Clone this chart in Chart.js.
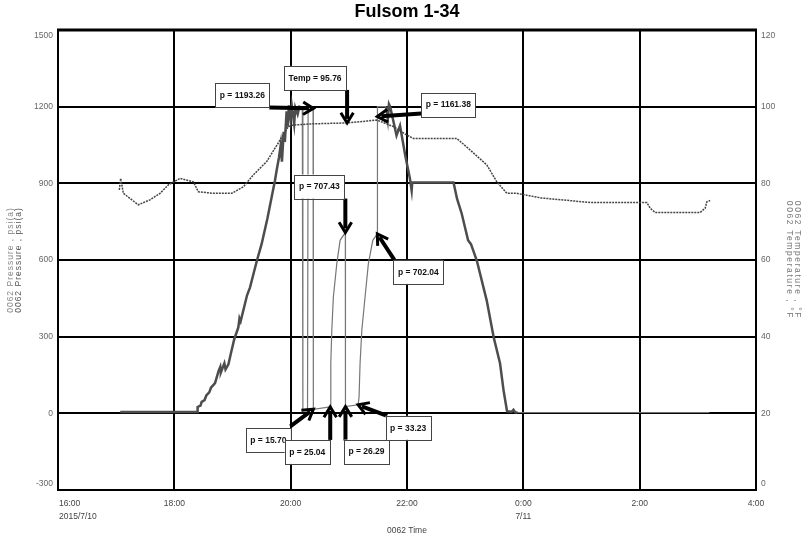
<!DOCTYPE html>
<html>
<head>
<meta charset="utf-8">
<script src="https://cdn.jsdelivr.net/npm/chart.js@4.4.1/dist/chart.umd.min.js"></script>
<style>
html,body{margin:0;padding:0;background:#fff;}
#wrap{width:809px;height:539px;}
</style>
</head>
<body>
<div id="wrap"><canvas id="c" width="809" height="539"></canvas></div>
<script>
// ---------- data (hours since 2015/7/10 00:00) ----------
const chartTitle = 'Fulsom 1-34';
const xTickLabels = ['16:00', '18:00', '20:00', '22:00', '0:00', '2:00', '4:00'];
const xTickSubLabels = ['2015/7/10', '', '', '', '7/11', '', ''];
const xTickValues = [16, 18, 20, 22, 24, 26, 28];
const pressureTicks = [1500, 1200, 900, 600, 300, 0, -300];
const temperatureTicks = [120, 100, 80, 60, 40, 20, 0];

const pressureRiseTime = [17.07, 18.40, 18.40, 18.45, 18.47, 18.52, 18.55, 18.60, 18.63, 18.70, 18.76, 18.79, 18.80, 18.86, 18.88, 18.93, 18.97, 19.03, 19.10, 19.12, 19.14, 19.25, 19.30, 19.42, 19.50, 19.60, 19.73, 19.76, 19.80, 19.83, 19.85, 19.88, 19.90, 19.93, 19.95, 19.97, 20.00, 20.02, 20.06, 20.08, 20.12, 20.15, 20.20];
const pressureRiseValue = [5, 5, 25, 30, 45, 52, 70, 82, 100, 118, 165, 182, 160, 196, 172, 192, 232, 290, 336, 372, 360, 462, 492, 598, 662, 762, 911, 952, 1002, 1052, 985, 1102, 1062, 1182, 1122, 1205, 1150, 1202, 1132, 1196, 1170, 1200, 1195];

const pressureTestTime = [20.20, 20.21, 20.29, 20.30, 20.385, 20.39, 20.68, 20.69, 20.707, 20.734, 20.793, 20.85, 20.94, 20.942, 21.16, 21.176, 21.193, 21.223, 21.279, 21.336, 21.412, 21.49, 21.492, 21.64];
const pressureTestValue = [1195, 12, 14, 1198, 1193.26, 15.70, 25.04, 195, 324, 455, 586, 677, 707.43, 26.29, 33.23, 64, 195, 324, 455, 586, 677, 702.04, 1200, 1200];

const pressureFallTime = [21.64, 21.67, 21.69, 21.71, 21.77, 21.82, 21.88, 21.97, 22.05, 22.08, 22.09, 22.80, 22.86, 22.94, 23.05, 23.10, 23.20, 23.37, 23.49, 23.60, 23.66, 23.72, 23.80, 23.83, 23.86, 23.90];
const pressureFallValue = [1200, 1150, 1210, 1200, 1139, 1087, 1126, 1009, 919, 872, 903, 903, 840, 782, 677, 662, 598, 442, 298, 195, 90, 8, 6, 14, 4, 3];

const pressureTailTime = [23.90, 27.20];
const pressureTailValue = [3, 3];

const temperatureTime = [17.054, 17.078, 17.123, 17.381, 17.582, 17.754, 17.897, 18.098, 18.327, 18.413, 18.671, 18.987, 19.187, 19.359, 19.589, 19.818, 19.960, 20.046, 20.333, 20.970, 21.481, 21.766, 21.997, 22.110, 22.856, 23.085, 23.372, 23.544, 23.716, 23.888, 24.300, 25.149, 26.124, 26.181, 26.267, 27.040, 27.126, 27.155, 27.212];
const temperatureValue = [78.3, 81.3, 77.4, 74.4, 75.7, 77.4, 79.6, 81.3, 80.4, 77.8, 77.4, 77.4, 79.1, 82.2, 85.7, 91.3, 94.8, 95.2, 95.5, 95.76, 96.5, 94.8, 92.6, 91.7, 91.7, 88.7, 84.8, 80.4, 77.4, 77.4, 76.2, 75.0, 75.0, 73.5, 72.4, 72.4, 73.5, 75.2, 75.5];

const annotationTexts = ['p = 1193.26', 'Temp = 95.76', 'p = 1161.38', 'p = 707.43', 'p = 702.04', 'p = 15.70', 'p = 25.04', 'p = 26.29', 'p = 33.23'];
const annotationTimes = [20.39, 20.97, 21.49, 20.94, 21.49, 20.39, 20.68, 20.942, 21.16];
const annotationValues = [1193.26, 95.76, 1161.38, 707.43, 702.04, 15.70, 25.04, 26.29, 33.23];
const annotationAxes = ['y', 'y2', 'y', 'y', 'y', 'y', 'y', 'y', 'y'];

// ---------- layout of annotation boxes (pixel offsets from arrow tip) ----------
const annotationBoxOffset = [[-71, -13], [-32, -45], [71, -12], [-26, -46], [41, 38], [-45, 31], [-23, 45], [21, 45], [50, 23]];
const annotationTailOffset = [[-44, -1], [0, -33], [44, -3], [0, -34], [17, 26], [-23, 17], [0, 33], [0, 34], [29, 11]];

function pts(t, v) { return t.map((x, i) => ({ x: x, y: v[i] })); }

const FONT = '"Liberation Sans", Arial, sans-serif';

const decor = {
  id: 'decor',
  beforeDraw(chart) {
    const ctx = chart.ctx;
    ctx.save();
    ctx.fillStyle = '#fff';
    ctx.fillRect(0, 0, chart.width, chart.height);
    ctx.restore();
  },
  afterDraw(chart) {
    const ctx = chart.ctx;
    const a = chart.chartArea;
    const xs = chart.scales.x, ys = chart.scales.y, y2 = chart.scales.y2;
    ctx.save();
    // frame
    ctx.strokeStyle = '#000';
    ctx.lineWidth = 2;
    ctx.strokeRect(a.left, a.top, a.right - a.left, a.bottom - a.top);
    ctx.lineWidth = 3;
    ctx.beginPath(); ctx.moveTo(a.left - 1, a.top); ctx.lineTo(a.right + 1, a.top); ctx.stroke();

    // y tick labels
    ctx.font = '8.5px ' + FONT;
    ctx.fillStyle = '#666';
    ctx.textBaseline = 'middle';
    ctx.textAlign = 'right';
    pressureTicks.forEach((v, i) => {
      let y = ys.getPixelForValue(v);
      if (i === 0) y += 6; if (i === pressureTicks.length - 1) y -= 6;
      ctx.fillText(String(v), a.left - 5, y);
    });
    ctx.textAlign = 'left';
    temperatureTicks.forEach((v, i) => {
      let y = y2.getPixelForValue(v);
      if (i === 0) y += 6; if (i === temperatureTicks.length - 1) y -= 6;
      ctx.fillText(String(v), a.right + 5, y);
    });
    // x tick labels
    ctx.fillStyle = '#444';
    xTickValues.forEach((v, i) => {
      const x = xs.getPixelForValue(v);
      ctx.textAlign = i === 0 ? 'left' : 'center';
      const xx = i === 0 ? x + 1 : x;
      ctx.fillText(xTickLabels[i], xx, 504);
      if (xTickSubLabels[i]) ctx.fillText(xTickSubLabels[i], xx, 517);
    });
    ctx.textAlign = 'center';
    ctx.fillText('0062 Time', (a.left + a.right) / 2, 531);

    // axis titles
    const midY = (a.top + a.bottom) / 2;
    ctx.font = '8.5px ' + FONT;
    ctx.letterSpacing = '1px';
    ctx.save();
    ctx.translate(11, midY); ctx.rotate(-Math.PI / 2);
    ctx.fillStyle = '#888'; ctx.fillText('0062 Pressure , psi(a)', 0, 0);
    ctx.restore();
    ctx.save();
    ctx.translate(19, midY); ctx.rotate(-Math.PI / 2);
    ctx.fillStyle = '#555'; ctx.fillText('0062 Pressure , psi(a)', 0, 0);
    ctx.restore();
    ctx.letterSpacing = '1.6px';
    ctx.save();
    ctx.translate(789, midY); ctx.rotate(Math.PI / 2);
    ctx.fillStyle = '#777'; ctx.fillText('0062 Temperature , °F', 0, 0);
    ctx.restore();
    ctx.save();
    ctx.translate(797, midY); ctx.rotate(Math.PI / 2);
    ctx.fillStyle = '#777'; ctx.fillText('0062 Temperature , °F', 0, 0);
    ctx.restore();
    ctx.letterSpacing = '0px';

    // annotations
    ctx.font = 'bold 8.5px ' + FONT;
    annotationTexts.forEach((txt, i) => {
      const tx = xs.getPixelForValue(annotationTimes[i]);
      const ty = chart.scales[annotationAxes[i]].getPixelForValue(annotationValues[i]);
      const sx = tx + annotationTailOffset[i][0], sy = ty + annotationTailOffset[i][1];
      const dx = tx - sx, dy = ty - sy, len = Math.hypot(dx, dy);
      const ux = dx / len, uy = dy / len;
      ctx.strokeStyle = '#000';
      ctx.lineCap = 'butt';
      ctx.lineWidth = 4;
      ctx.beginPath(); ctx.moveTo(sx, sy); ctx.lineTo(tx - ux * 4, ty - uy * 4); ctx.stroke();
      const L = 12, ang = 0.55;
      const c = Math.cos(ang), s = Math.sin(ang);
      const lx = tx - L * (ux * c - uy * s), ly = ty - L * (uy * c + ux * s);
      const rx = tx - L * (ux * c + uy * s), ry = ty - L * (uy * c - ux * s);
      ctx.lineWidth = 3;
      ctx.lineJoin = 'miter';
      ctx.beginPath(); ctx.moveTo(lx, ly); ctx.lineTo(tx, ty); ctx.lineTo(rx, ry); ctx.stroke();
      // box
      const w = ctx.measureText(txt).width + 9, h = 24;
      const cx = tx + annotationBoxOffset[i][0], cy = ty + annotationBoxOffset[i][1];
      ctx.fillStyle = '#fff';
      ctx.fillRect(cx - w / 2, cy - h / 2, w, h);
      ctx.strokeStyle = '#444';
      ctx.lineWidth = 1;
      ctx.strokeRect(Math.round(cx - w / 2) + 0.5, Math.round(cy - h / 2) + 0.5, Math.round(w), h);
      ctx.fillStyle = '#111';
      ctx.textAlign = 'center';
      ctx.textBaseline = 'middle';
      ctx.fillText(txt, cx, cy + 0.5);
    });
    ctx.restore();
  }
};

new Chart(document.getElementById('c'), {
  type: 'line',
  data: {
    datasets: [
      { label: 'Temperature', data: pts(temperatureTime, temperatureValue), yAxisID: 'y2', borderColor: '#444', borderWidth: 1.5, borderDash: [2, 1], pointRadius: 0, tension: 0 },
      { label: 'Pressure tail', data: pts(pressureTailTime, pressureTailValue), yAxisID: 'y', borderColor: '#777', borderWidth: 1, pointRadius: 0, tension: 0 },
      { label: 'Pressure test', data: pts(pressureTestTime, pressureTestValue), yAxisID: 'y', borderColor: '#777', borderWidth: 1.2, pointRadius: 0, tension: 0 },
      { label: 'Pressure', data: pts(pressureRiseTime, pressureRiseValue), yAxisID: 'y', borderColor: '#4d4d4d', borderWidth: 2.5, pointRadius: 0, tension: 0 },
      { label: 'Pressure 2', data: pts(pressureFallTime, pressureFallValue), yAxisID: 'y', borderColor: '#4d4d4d', borderWidth: 2.5, pointRadius: 0, tension: 0 }
    ]
  },
  options: {
    responsive: false,
    animation: false,
    devicePixelRatio: 1,
    layout: { padding: 0 },
    plugins: {
      legend: { display: false },
      tooltip: { enabled: false },
      title: {
        display: true, text: chartTitle, fullSize: false, color: '#000',
        font: { family: FONT, size: 18, weight: 'bold', lineHeight: 1.2 },
        padding: { top: 1, bottom: 7.4 }
      }
    },
    scales: {
      x: {
        type: 'linear', min: 16, max: 28,
        ticks: { stepSize: 2, display: false },
        grid: { color: '#000', lineWidth: 2, drawTicks: false },
        border: { display: true, color: '#000', width: 2 },
        afterFit(s) { s.height = 49; }
      },
      y: {
        type: 'linear', position: 'left', min: -300, max: 1500,
        ticks: { stepSize: 300, display: false },
        grid: { color: '#000', lineWidth: 2, drawTicks: false },
        border: { display: true, color: '#000', width: 2 },
        afterFit(s) { s.width = 58; }
      },
      y2: {
        type: 'linear', position: 'right', min: 0, max: 120,
        ticks: { stepSize: 20, display: false },
        grid: { drawOnChartArea: false, drawTicks: false },
        border: { display: true, color: '#000', width: 2 },
        afterFit(s) { s.width = 53; }
      }
    }
  },
  plugins: [decor]
});
</script>
</body>
</html>
